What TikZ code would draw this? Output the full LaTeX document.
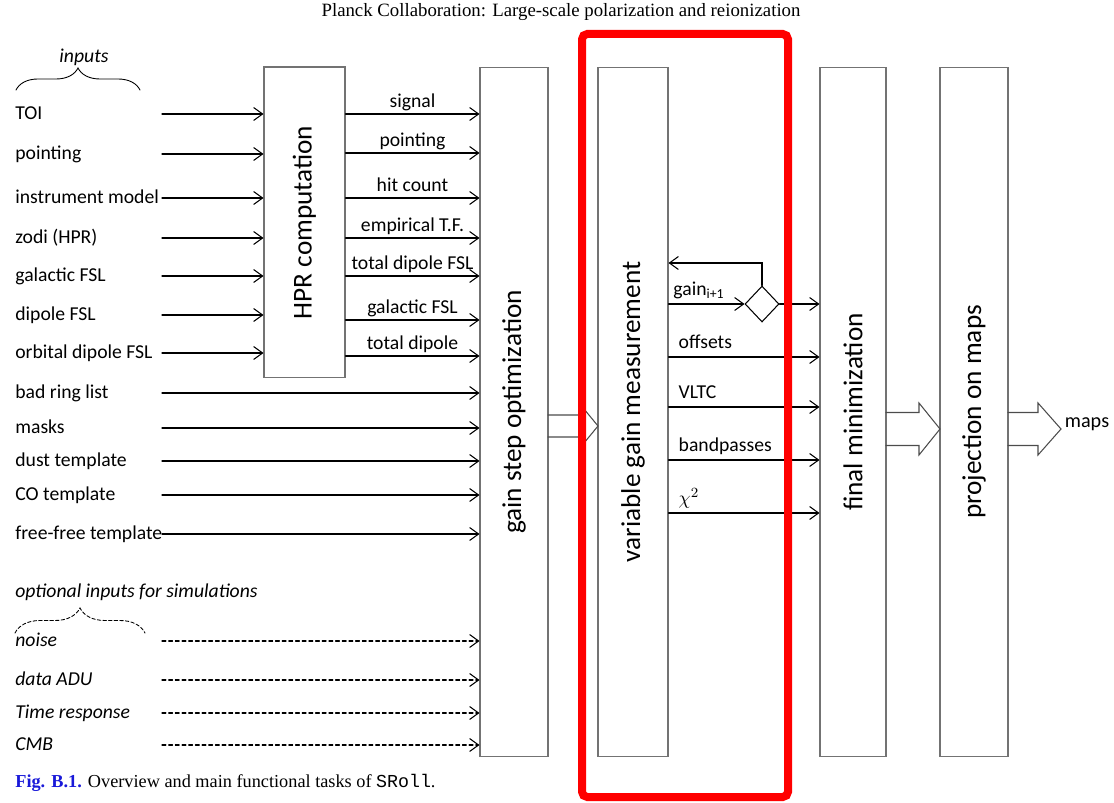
\documentclass[tikz,border=0pt]{standalone}
\usepackage{fontspec}
\setmainfont{Carlito}
\newfontfamily\timesfont{Liberation Serif}
\newfontfamily\courfont{Liberation Mono}
\usepackage{tikz}
\usetikzlibrary{arrows.meta,shapes.geometric,decorations.pathreplacing,positioning}
\definecolor{figblue}{rgb}{0.1,0.1,0.85}

% hollow block arrow: x start, x tip, x head base, y, half shaft, half head
\newcommand{\fatarrow}[6]{%
\draw[fat] (#1,#4-#5) -- (#3,#4-#5) -- (#3,#4-#6) -- (#2,#4) -- (#3,#4+#6) -- (#3,#4+#5) -- (#1,#4+#5);}

\begin{document}
\begin{tikzpicture}[x=0.02cm,y=-0.02cm,>={Straight Barb[length=1.8mm,width=2.6mm]},
  line cap=round,font=\fontsize{11.2}{13}\selectfont,
  blk/.style={draw=black!55,line width=0.6pt,inner sep=0pt},
  blktxt/.style={rotate=90,font=\fontsize{15.5}{17}\selectfont},
  inlbl/.style={anchor=west,inner sep=0pt,text height=8.5pt,text depth=2.2pt},
  outlbl/.style={inner sep=1pt,text height=8.5pt,text depth=2.2pt},
  arr/.style={->,line width=0.6pt},
  darr/.style={->,line width=0.6pt,dash pattern=on 2.2pt off 1.6pt},
  fat/.style={draw=black!70,line width=0.6pt}]
\useasboundingbox (0,0) rectangle (1114,803);

\node[font=\timesfont\fontsize{10.7}{12}\selectfont] (hdr) at (561,12) {Planck Collaboration: Large-scale polarization and reionization};

% processing blocks
\node[blk,minimum width=1.62cm,minimum height=6.22cm] (hpr) at (304.5,222.5) {};
\node[blktxt] at (hpr) {HPR computation};
\node[blk,minimum width=1.36cm,minimum height=13.8cm] (gso) at (514,412) {};
\node[blktxt] at (gso) {gain step optimization};
\node[blk,minimum width=1.4cm,minimum height=13.8cm] (vgm) at (633,412) {};
\node[blktxt] at (vgm) {variable gain measurement};
\node[blk,minimum width=1.32cm,minimum height=13.8cm] (fmin) at (853,412) {};
\node[blktxt] at (fmin) {final minimization};
\node[blk,minimum width=1.36cm,minimum height=13.8cm] (proj) at (974,412) {};
\node[blktxt] at (proj) {projection on maps};

% inputs
\draw[decorate,decoration={brace,amplitude=0.44cm},line width=0.5pt] (16,90) -- (140,90);
\node[font=\fontsize{11.2}{13}\selectfont\itshape] (inp) at (84,57) {inputs};
\coordinate (inx) at (162,0);
\foreach \y/\t/\nm in {114/TOI/toi,154/pointing/pnt,198/instrument model/imod,238/zodi (HPR)/zodi,
  276/galactic FSL/gfsl,315/dipole FSL/dfsl,353/orbital dipole FSL/odfsl}{
  \node[inlbl] (\nm) at (15,\y) {\t};
  \draw[arr] (\nm -| inx) -- (\nm -| hpr.west);
}
\foreach \y/\t/\nm in {393/bad ring list/brl,428/masks/msk,461/dust template/dust,
  495/CO template/co,534/free-free template/ff}{
  \node[inlbl] (\nm) at (15,\y) {\t};
  \draw[arr] (\nm -| inx) -- (\nm -| gso.west);
}

% optional inputs
\node[inlbl,font=\fontsize{11.2}{13}\selectfont\itshape] (opt) at (15,592) {optional inputs for simulations};
\draw[decorate,decoration={brace,amplitude=0.5cm},line width=0.5pt,dash pattern=on 2pt off 1.2pt] (15,633) -- (145,633);
\foreach \y/\t/\nm in {641/noise/noi,680/data ADU/adu,713/Time response/tresp,745/CMB/cmb}{
  \node[inlbl,font=\fontsize{11.2}{13}\selectfont\itshape] (\nm) at (15,\y) {\t};
  \draw[darr] (\nm -| inx) -- (\nm -| gso.west);
}

% HPR products
\foreach \y/\t in {114/signal,153/pointing,198/hit count,238/empirical T.F.,
  276/total dipole FSL,320/galactic FSL,356/total dipole}
  \draw[arr] (hpr.east |- 0,\y) -- (gso.west |- 0,\y) node[outlbl,midway,above] {\t};

% variable gain products
\node[diamond,draw,line width=0.6pt,minimum width=0.68cm,minimum height=0.72cm,inner sep=0pt] (dia) at (762,304) {};
\coordinate (fb) at (762,263);
\draw[arr] (vgm.east |- dia) -- (dia.west) node[outlbl,pos=0,above right,inner sep=2.5pt] {gain\textsubscript{i+1}};
\draw[arr] (dia.east) -- (dia -| fmin.west);
\draw[arr] (dia.north) -- (fb) -- (fb -| vgm.east);
\foreach \y/\t in {357/offsets,407/VLTC,460/bandpasses,513/$\chi^{2}$}
  \draw[arr] (vgm.east |- 0,\y) -- (fmin.west |- 0,\y) node[outlbl,pos=0,above right,inner sep=2.5pt,xshift=3pt] {\t};

% block arrows
\fatarrow{548}{598}{584}{426}{11}{17}
\fatarrow{886}{940}{919}{429}{16.5}{26}
\fatarrow{1008}{1061}{1038}{429}{16.5}{26}
\node[font=\fontsize{11.5}{13}\selectfont] (maps) at (1087,424) {maps};

% highlight
\draw[red,line width=0.16cm,rounded corners=3pt] (582,34) rectangle (788,797);

\node[anchor=west,inner sep=0pt,font=\timesfont\fontsize{10.4}{12}\selectfont] (cap) at (15,783)
  {\textcolor{figblue}{\bfseries Fig. B.1.} Overview and main functional tasks of {\courfont SRoll}.};
\end{tikzpicture}
\end{document}
